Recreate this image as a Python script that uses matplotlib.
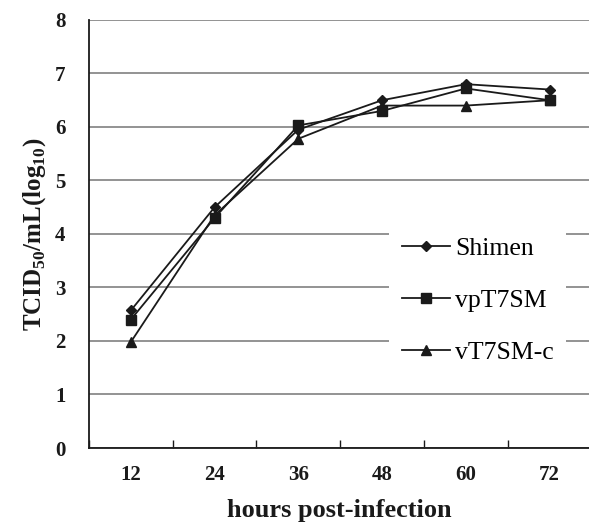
import numpy as np
import matplotlib.pyplot as plt

plt.rcParams['font.family'] = ['Liberation Serif', 'DejaVu Serif']
plt.rcParams['mathtext.fontset'] = 'custom'
plt.rcParams['mathtext.rm'] = 'Liberation Serif'
plt.rcParams['mathtext.bf'] = 'Liberation Serif:bold'

hours = ["12", "24", "36", "48", "60", "72"]
shimen = [2.57, 4.5, 5.95, 6.5, 6.8, 6.7]
vpt7sm = [2.4, 4.3, 6.03, 6.3, 6.72, 6.5]
vt7smc = [1.98, 4.35, 5.78, 6.4, 6.4, 6.5]

x = np.arange(len(hours))

fig = plt.figure(figsize=(5.89, 5.23), dpi=100)
ax = fig.add_axes([0.151, 0.1434, 0.849, 0.8184])

ax.plot(x, shimen, marker="D", markersize=5, color="#1a1a1a", lw=1.3, label="Shimen")
ax.plot(x, vpt7sm, marker="s", markersize=7, color="#1a1a1a", lw=1.3, label="vpT7SM")
ax.plot(x, vt7smc, marker="^", markersize=7, color="#1a1a1a", lw=1.3, label="vT7SM-c")

ax.set_xlim(-0.5, 5.47)
ax.set_ylim(0, 8)
ax.set_yticks(range(0, 9))
ax.set_xticks(x)
ax.set_xticklabels(hours)
ax.set_xticks(np.arange(-0.5, 5.5, 1), minor=True)
ax.tick_params(axis="x", which="major", length=0, pad=12)
ax.tick_params(axis="x", which="minor", direction="in", length=6, width=1, color="#1a1a1a")
ax.tick_params(axis="y", length=0, pad=17)
for lab in ax.get_xticklabels() + ax.get_yticklabels():
    lab.set_fontweight("bold")
    lab.set_fontsize(15)
    lab.set_color("#1a1a1a")

ax.yaxis.grid(True, color="#8a8a8a", lw=1.3)
ax.set_axisbelow(True)
ax.spines["top"].set_visible(False)
ax.spines["right"].set_visible(False)
ax.spines["left"].set_color("#1a1a1a")
ax.spines["bottom"].set_color("#1a1a1a")
ax.spines["left"].set_linewidth(1.3)
ax.spines["bottom"].set_linewidth(1.3)

ax.set_ylabel(r"TCID$_{\mathbf{50}}$/mL(log$_{\mathbf{10}}$)", fontsize=18,
              fontweight="bold", color="#1a1a1a", labelpad=5)
ax.set_xlabel("hours post-infection", fontsize=19, fontweight="bold",
              color="#1a1a1a", labelpad=10)

leg = ax.legend(loc="center left", bbox_to_anchor=(0.575, 0.345), fontsize=18.5,
                frameon=True, facecolor="white", edgecolor="none", framealpha=1,
                fancybox=False, labelspacing=1.13, handlelength=1.85,
                handletextpad=0.2, borderpad=0.5)

fig.savefig("out.png", dpi=100)
